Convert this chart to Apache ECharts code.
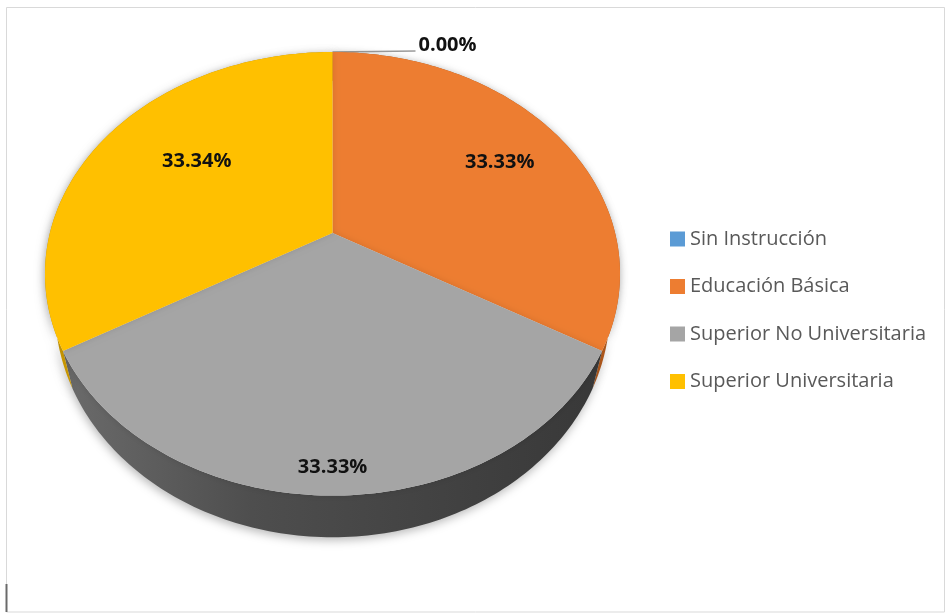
<!DOCTYPE html>
<html>
<head>
<meta charset="utf-8">
<script src="https://cdn.jsdelivr.net/npm/echarts@6/dist/echarts.min.js"></script>
<style>
  html, body { margin: 0; padding: 0; background: #ffffff; }
  #chart { width: 949px; height: 615px; }
</style>
</head>
<body>
<div id="chart"></div>
<script>
// Nivel de instrucción — shares per category
const categories = ['Sin Instrucción', 'Educación Básica', 'Superior No Universitaria', 'Superior Universitaria'];
const values = [0.00, 33.33, 33.33, 33.34];

// Styling
const topColors = ['#5B9BD5', '#ED7D31', '#A5A5A5', '#FFC000'];
const sideColors = ['#3f6f9c', '#b35a1c', '#4a4a4a', '#c99700'];
const labelRadius = [1.0, 0.72, 0.91, 0.625];
const labelAngleShift = [0, 1, 0, 5]; // degrees

// Tilted-disc projection (perspective view of a unit circle)
const CX = 332.5, CY = 233, A = 282.6, B = 171.4, G = -0.184;
const DEPTH = 34, BOTTOM_SHRINK = 0.965;

function proj(ang, r, drop) {
  const u = r * Math.sin(ang);
  const v = -r * Math.cos(ang);
  const w = 1 + G * v;
  const x = CX + A * u / w;
  const y = (CY + B * v + (drop || 0)) / w;
  if (!drop) return [x, y];
  // lower rim sits further from the eye, so it draws slightly narrower
  return [CX + (x - CX) * BOTTOM_SHRINK, y];
}

const total = values.reduce((s, x) => s + x, 0);
const starts = [];
(function () {
  let acc = 0;
  for (let i = 0; i < values.length; i++) { starts.push(acc); acc += values[i]; }
})();

function sliceAngles(i) {
  const a0 = starts[i] / total * Math.PI * 2;
  const a1 = (starts[i] + values[i]) / total * Math.PI * 2;
  return [a0, a1];
}

function arc(a0, a1, drop) {
  const pts = [];
  const n = Math.max(2, Math.ceil((a1 - a0) / (Math.PI / 180)));
  for (let j = 0; j <= n; j++) pts.push(proj(a0 + (a1 - a0) * j / n, 1, drop));
  return pts;
}

const valueFont = { fontFamily: 'Open Sans', fontWeight: 'bold', fontSize: 20 };

// Side wall of the disc
const sideSeries = {
  type: 'custom',
  name: 'side',
  coordinateSystem: 'none',
  silent: true,
  z: 2,
  data: values,
  renderItem: function (params) {
    const i = params.dataIndex;
    if (values[i] <= 0) return { type: 'group', children: [] };
    const [a0, a1] = sliceAngles(i);
    const top = arc(a0, a1, 0);
    const bottom = arc(a0, a1, DEPTH).reverse();
    const fill = i === 2 ? new echarts.graphic.LinearGradient(0, 0, 1, 0, [
      { offset: 0, color: '#6b6b6b' },
      { offset: 0.35, color: '#4e4e4e' },
      { offset: 1, color: '#383838' }
    ]) : sideColors[i];
    return {
      type: 'polygon',
      shape: { points: top.concat(bottom) },
      style: {
        fill: fill,
        shadowBlur: 10,
        shadowColor: 'rgba(0,0,0,0.28)',
        shadowOffsetX: -1,
        shadowOffsetY: 3
      }
    };
  }
};

// Top faces, one series per category so the legend lists each one
const topSeries = categories.map(function (name, k) {
  return {
    type: 'custom',
    name: name,
    coordinateSystem: 'none',
    silent: true,
    z: 3,
    itemStyle: { color: topColors[k] },
    data: [values[k]],
    renderItem: function () {
      const [a0, a1] = sliceAngles(k);
      const mid = (a0 + a1) / 2 + labelAngleShift[k] * Math.PI / 180;
      const text = values[k].toFixed(2) + '%';
      const children = [];
      if (values[k] > 0) {
        const pts = [proj(0, 0, 0)].concat(arc(a0, a1, 0));
        children.push({
          type: 'polygon',
          shape: { points: pts },
          style: { fill: topColors[k], shadowBlur: 6, shadowColor: 'rgba(0,0,0,0.12)' }
        });
        const p = proj(mid, labelRadius[k], 0);
        children.push({
          type: 'text',
          x: p[0], y: p[1],
          z2: 10,
          style: Object.assign({ text: text, fill: '#111111', align: 'center', verticalAlign: 'middle' }, valueFont)
        });
      } else {
        const p = proj(mid, 1, 0);
        const end = [p[0] + 83, p[1] - 1];
        children.push({
          type: 'polyline',
          shape: { points: [p, end] },
          style: { stroke: '#9a9a9a', lineWidth: 1.5, fill: null }
        });
        children.push({
          type: 'text',
          x: end[0] + 3, y: end[1] - 6,
          style: Object.assign({ text: text, fill: '#111111', align: 'left', verticalAlign: 'middle' }, valueFont)
        });
      }
      return { type: 'group', children: children };
    }
  };
});

const chart = echarts.init(document.getElementById('chart'), null, { renderer: 'canvas' });
chart.setOption({
  animation: false,
  backgroundColor: '#ffffff',
  color: topColors,
  legend: {
    data: categories,
    orient: 'vertical',
    left: 670,
    top: 229,
    padding: 0,
    icon: 'rect',
    itemWidth: 15,
    itemHeight: 15,
    itemGap: 27.5,
    selectedMode: false,
    textStyle: { fontFamily: 'Open Sans', fontSize: 20, color: '#595959' }
  },
  graphic: [
    {
      type: 'rect',
      silent: true,
      shape: { x: 6.5, y: 7.5, width: 938, height: 604.5 },
      style: { fill: 'none', stroke: '#d9d9d9', lineWidth: 1 }
    },
    {
      type: 'line',
      silent: true,
      shape: { x1: 6.5, y1: 584, x2: 6.5, y2: 612 },
      style: { stroke: '#6a6a6a', lineWidth: 2 }
    }
  ],
  series: [sideSeries].concat(topSeries)
});
</script>
</body>
</html>
